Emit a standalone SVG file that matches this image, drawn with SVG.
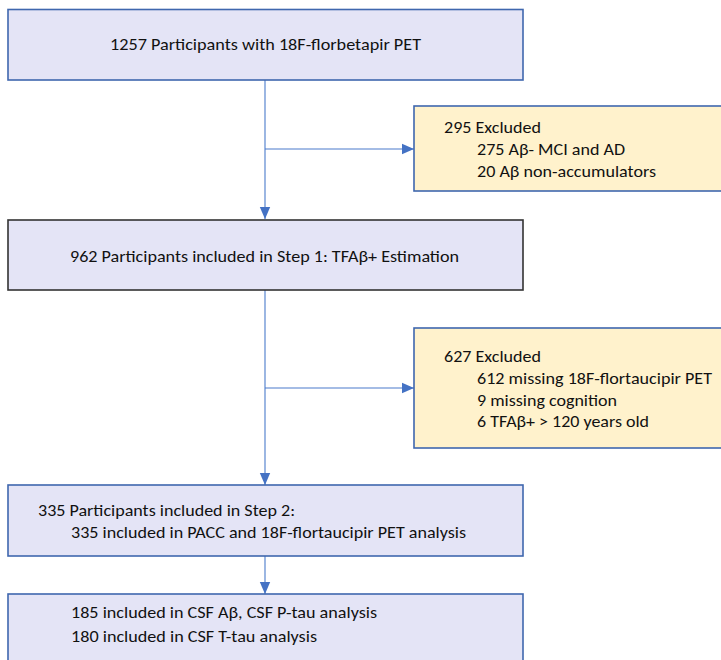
<svg xmlns="http://www.w3.org/2000/svg" width="721" height="660" viewBox="0 0 721 660">
<style>
.box{fill:#E4E4F6;stroke:#3F67AE;stroke-width:1.6}
.box2{fill:#E4E4F6;stroke:#333333;stroke-width:1.6}
.ybox{fill:#FFF2CC;stroke:#3F67AE;stroke-width:1.6}
text{font-family:Carlito,"Liberation Sans",sans-serif;font-size:16px;fill:#111111}
.c{stroke:#4A7BCB;stroke-width:1.1;fill:none}
</style>
<defs>
<marker id="ah" markerUnits="userSpaceOnUse" markerWidth="12" markerHeight="12" viewBox="0 0 12 12" refX="12" refY="6" orient="auto">
<path d="M0,0.8 L12,6 L0,11.2 Z" fill="#4472C4"/>
</marker>
</defs>
<rect width="721" height="660" fill="#ffffff"/>
<g id="connectors">
<path class="c" d="M265,80 V219" marker-end="url(#ah)"/>
<path class="c" d="M265,149 H414" marker-end="url(#ah)"/>
<path class="c" d="M265,290 V485" marker-end="url(#ah)"/>
<path class="c" d="M265,388 H414" marker-end="url(#ah)"/>
<path class="c" d="M265,556 V594" marker-end="url(#ah)"/>
</g>
<g id="n1">
<rect class="box" x="8" y="9.5" width="515" height="70.5"/>
<text x="110" y="50" textLength="311" lengthAdjust="spacingAndGlyphs">1257 Participants with 18F-florbetapir PET</text>
</g>
<g id="ex1">
<rect class="ybox" x="414" y="106" width="320" height="85"/>
<text x="444" y="133" textLength="97" lengthAdjust="spacingAndGlyphs">295 Excluded</text>
<text x="477" y="155" textLength="148" lengthAdjust="spacingAndGlyphs">275 Aβ- MCI and AD</text>
<text x="477" y="177" textLength="179" lengthAdjust="spacingAndGlyphs">20 Aβ non-accumulators</text>
</g>
<g id="n2">
<rect class="box2" x="8" y="220" width="515" height="70"/>
<text x="70" y="262" textLength="389" lengthAdjust="spacingAndGlyphs">962 Participants included in Step 1: TFAβ+ Estimation</text>
</g>
<g id="ex2">
<rect class="ybox" x="414" y="328" width="320" height="120"/>
<text x="444" y="362" textLength="97" lengthAdjust="spacingAndGlyphs">627 Excluded</text>
<text x="477" y="384" textLength="235" lengthAdjust="spacingAndGlyphs">612 missing 18F-flortaucipir PET</text>
<text x="477" y="405.5" textLength="140" lengthAdjust="spacingAndGlyphs">9 missing cognition</text>
<text x="477" y="427" textLength="172" lengthAdjust="spacingAndGlyphs">6 TFAβ+ &gt; 120 years old</text>
</g>
<g id="n3">
<rect class="box" x="8" y="485" width="515" height="71"/>
<text x="38" y="516" textLength="257" lengthAdjust="spacingAndGlyphs">335 Participants included in Step 2:</text>
<text x="71" y="538" textLength="395" lengthAdjust="spacingAndGlyphs">335 included in PACC and 18F-flortaucipir PET analysis</text>
</g>
<g id="n4">
<rect class="box" x="8" y="594" width="515" height="80"/>
<text x="71" y="618" textLength="306" lengthAdjust="spacingAndGlyphs">185 included in CSF Aβ, CSF P-tau analysis</text>
<text x="71" y="642" textLength="246" lengthAdjust="spacingAndGlyphs">180 included in CSF T-tau analysis</text>
</g>
</svg>
